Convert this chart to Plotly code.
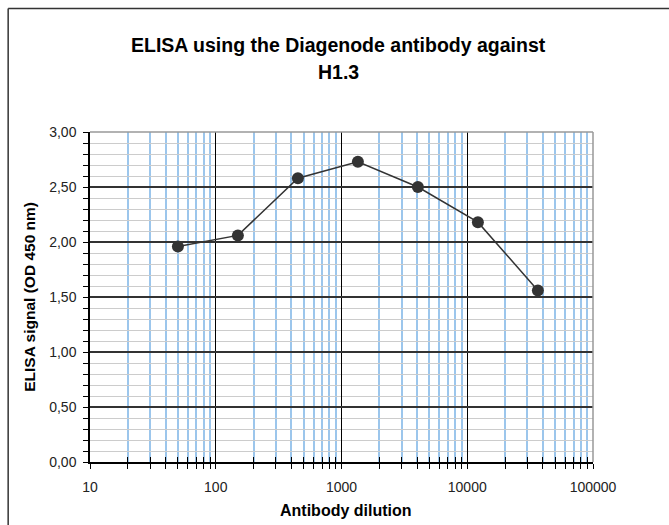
import plotly.graph_objects as go

dilution = [50, 150, 450, 1350, 4050, 12150, 36450]
signal = [1.96, 2.06, 2.58, 2.73, 2.50, 2.18, 1.56]

x_major = [10, 100, 1000, 10000, 100000]
x_major_text = ["10", "100", "1000", "10000", "100000"]
x_minor = [m * d for d in [10, 100, 1000, 10000] for m in range(2, 10)]

title_line1 = "ELISA using the Diagenode antibody against"
title_line2 = "H1.3"
x_title = "Antibody dilution"
y_title = "ELISA signal (OD 450 nm)"

W, H = 669, 525
L, R, T, B = 89.5, 75.5, 131.7, 63

def px2paper_x(px):
    return (px - L) / (W - L - R)

def px2paper_y(py):
    return (H - B - py) / (H - T - B)

fig = go.Figure()
fig.add_trace(go.Scatter(
    x=dilution, y=signal, mode="lines+markers",
    line=dict(color="#333333", width=1.5),
    marker=dict(color="#333333", size=12),
    showlegend=False, cliponaxis=False,
))
# invisible trace to activate overlay axis (inside ticks -> cross ticks)
fig.add_trace(go.Scatter(x=[dilution[0]], y=[signal[0]], xaxis="x2", mode="markers",
                         marker=dict(opacity=0), showlegend=False, hoverinfo="skip"))

font_family = "Liberation Sans, Arial, sans-serif"
tickfont = dict(family=font_family, size=14, color="#222222")

fig.update_layout(
    width=W, height=H,
    margin=dict(l=L, r=R, t=T, b=B),
    paper_bgcolor="white", plot_bgcolor="white",
    separators=", ",
    xaxis=dict(
        type="log", range=[1, 5],
        tickvals=x_major, ticktext=x_major_text,
        ticks="outside", ticklen=5, tickcolor="black", tickwidth=1,
        showgrid=True, gridcolor="black", gridwidth=1,
        showline=True, linecolor="black", linewidth=1.5,
        mirror=False, zeroline=False,
        tickfont=tickfont, ticklabelstandoff=6,
        minor=dict(tickvals=x_minor, ticks="outside", ticklen=5, tickcolor="black",
                   showgrid=True, gridcolor="#9cc6ec", gridwidth=1.6),
    ),
    xaxis2=dict(
        type="log", range=[1, 5], overlaying="x", anchor="y", side="bottom",
        tickvals=x_major, ticks="inside", ticklen=5, tickcolor="black",
        showticklabels=False, showgrid=False, showline=False, zeroline=False,
        minor=dict(tickvals=x_minor, ticks="inside", ticklen=5, tickcolor="black", showgrid=False),
    ),
    yaxis=dict(
        range=[0, 3], dtick=0.5, tick0=0, tickformat=".2f",
        ticks="outside", ticklen=5, tickcolor="black",
        showgrid=True, gridcolor="#333333", gridwidth=1.5,
        showline=True, linecolor="black", linewidth=1.5,
        zeroline=False, tickfont=tickfont, ticklabelstandoff=4,
        minor=dict(dtick=0.1, ticks="outside", ticklen=5, tickcolor="black",
                   showgrid=True, gridcolor="#cccccc", gridwidth=1),
    ),
    shapes=[
        dict(type="line", xref="paper", yref="paper", x0=0, x1=1, y0=1, y1=1,
             line=dict(color="#999999", width=1.5)),
        dict(type="line", xref="paper", yref="paper", x0=1, x1=1, y0=0, y1=1,
             line=dict(color="#999999", width=1.5)),
        dict(type="line", xref="paper", yref="paper",
             x0=px2paper_x(7.5), x1=px2paper_x(700), y0=px2paper_y(8), y1=px2paper_y(8),
             line=dict(color="#333333", width=1.5)),
        dict(type="line", xref="paper", yref="paper",
             x0=px2paper_x(7.5), x1=px2paper_x(7.5), y0=px2paper_y(8), y1=px2paper_y(560),
             line=dict(color="#333333", width=1.5)),
    ],
    annotations=[
        dict(text=f"<b>{title_line1}</b>", xref="paper", yref="paper",
             x=px2paper_x(338.5), y=px2paper_y(45), showarrow=False,
             xanchor="center", yanchor="middle",
             font=dict(family=font_family, size=19.5, color="black")),
        dict(text=f"<b>{title_line2}</b>", xref="paper", yref="paper",
             x=px2paper_x(338.5), y=px2paper_y(71.5), showarrow=False,
             xanchor="center", yanchor="middle",
             font=dict(family=font_family, size=19.5, color="black")),
        dict(text=f"<b>{x_title}</b>", xref="paper", yref="paper",
             x=px2paper_x(346), y=px2paper_y(511), showarrow=False,
             xanchor="center", yanchor="middle",
             font=dict(family=font_family, size=16, color="black")),
        dict(text=f"<b>{y_title}</b>", xref="paper", yref="paper",
             x=px2paper_x(29), y=px2paper_y(297), showarrow=False, textangle=-90,
             xanchor="center", yanchor="middle",
             font=dict(family=font_family, size=15.5, color="black")),
    ],
)

fig.write_html("out.html", config={"displayModeBar": False},
               post_script="document.body.style.margin='0';")
